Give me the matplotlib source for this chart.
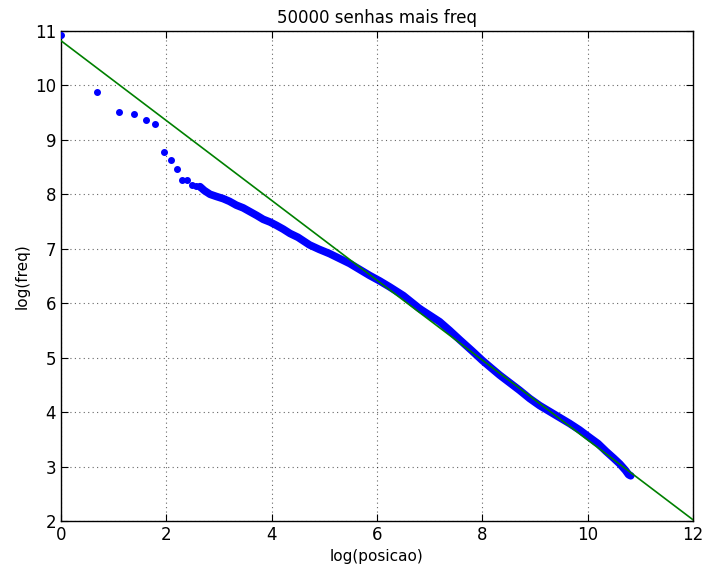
import numpy as np
import matplotlib.pyplot as plt

# pontos isolados (posicoes mais altas)
x_pontos = [0.0, 0.69, 1.10, 1.39, 1.61, 1.79, 1.95, 2.08, 2.20, 2.30, 2.40, 2.48, 2.56, 2.64]
y_pontos = [10.92, 9.87, 9.51, 9.47, 9.36, 9.29, 8.77, 8.63, 8.46, 8.27, 8.26, 8.17, 8.16, 8.14]

# parte densa da curva
x_curva = [2.64, 2.72, 2.83, 2.95, 3.08, 3.20, 3.33, 3.46, 3.59, 3.72, 3.84, 3.97, 4.09,
           4.22, 4.35, 4.50, 4.72, 4.90, 5.10, 5.29, 5.48, 5.67, 5.86, 6.05, 6.24,
           6.50, 6.81, 7.00, 7.19, 7.38, 7.57, 7.80, 8.00, 8.17, 8.33, 8.52, 8.71,
           8.90, 9.09, 9.28, 9.47, 9.66, 9.85, 10.03, 10.20, 10.35, 10.50, 10.61,
           10.72, 10.78, 10.82]
y_curva = [8.14, 8.07, 8.00, 7.96, 7.92, 7.87, 7.80, 7.75, 7.68, 7.61, 7.54, 7.49, 7.43,
           7.36, 7.28, 7.21, 7.07, 6.99, 6.91, 6.82, 6.73, 6.62, 6.51, 6.41, 6.30,
           6.14, 5.90, 5.78, 5.66, 5.50, 5.33, 5.13, 4.95, 4.81, 4.68, 4.54, 4.40,
           4.25, 4.12, 4.01, 3.90, 3.79, 3.67, 3.54, 3.42, 3.28, 3.15, 3.05,
           2.93, 2.85, 2.83]

# reta ajustada
a_reta = 10.82
b_reta = -0.733
x_reta = [0, 12]

fig = plt.figure(figsize=(7.07, 5.73), dpi=100)
ax = fig.add_axes([0.0863, 0.0908, 0.8937, 0.8552])

ax.plot(x_pontos, y_pontos, ".", color="b", markersize=8, zorder=3)
ax.plot(x_curva, y_curva, "-", color="b", linewidth=5.5, solid_capstyle="round", zorder=3)
ax.plot(x_reta, [a_reta + b_reta * v for v in x_reta], "-", color=(0, 0.5, 0), linewidth=1.2, zorder=4)

ax.set_xlim(0, 12)
ax.set_ylim(2, 11)
ax.set_xticks(range(0, 13, 2))
ax.set_yticks(range(2, 12))
ax.grid(True, color="black", linestyle=(0, (1, 3)), linewidth=0.8, alpha=0.6)
ax.tick_params(direction="in", top=True, right=True, labelsize=12, length=5)
for s in ax.spines.values():
	s.set_linewidth(1.0)

ax.set_title("50000 senhas mais freq", fontsize=12)
ax.set_xlabel("log(posicao)", fontsize=11)
ax.set_ylabel("log(freq)", fontsize=11)

fig.savefig("out.png", dpi=100)
